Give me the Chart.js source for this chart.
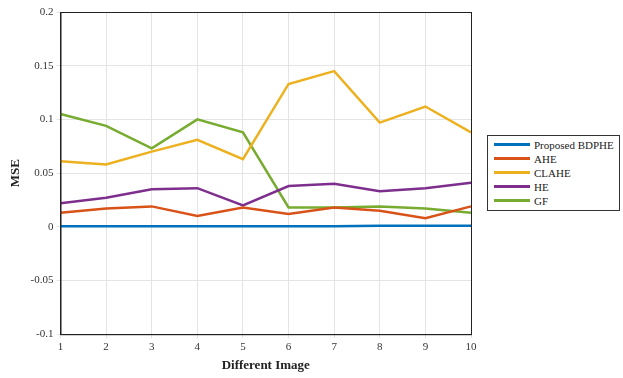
<!DOCTYPE html>
<html>
<head>
<meta charset="utf-8">
<script src="https://cdn.jsdelivr.net/npm/chart.js@4"></script>
<style>
  body { margin: 0; background: #fff; }
  #wrap { position: relative; width: 623px; height: 378px; }
  #legend {
    position: absolute; left: 487px; top: 135px; width: 131px;
    border: 1px solid #333; background: #fff;
    font-family: "Liberation Serif", serif; font-size: 11px; color: #222;
    padding: 2px 0 2px 0;
  }
  #legend div { height: 14px; line-height: 14px; white-space: nowrap; }
  #legend span { display: inline-block; width: 36px; height: 3px; margin: 0 4px 3px 6px; vertical-align: middle; }
</style>
</head>
<body>
<div id="wrap">
  <canvas id="myChart" width="623" height="378"></canvas>
  <div id="legend"></div>
</div>
<script>
// data
var images = ['1', '2', '3', '4', '5', '6', '7', '8', '9', '10'];
var bdphe = [0.0005, 0.0005, 0.0005, 0.0005, 0.0005, 0.0005, 0.0005, 0.001, 0.001, 0.001];
var ahe   = [0.013, 0.017, 0.019, 0.010, 0.018, 0.012, 0.018, 0.015, 0.008, 0.019];
var clahe = [0.061, 0.058, 0.070, 0.081, 0.063, 0.133, 0.145, 0.097, 0.112, 0.088];
var he    = [0.022, 0.027, 0.035, 0.036, 0.020, 0.038, 0.040, 0.033, 0.036, 0.041];
var gf    = [0.105, 0.094, 0.073, 0.100, 0.088, 0.018, 0.018, 0.019, 0.017, 0.013];
var yTicks = [0.2, 0.15, 0.1, 0.05, 0, -0.05, -0.1];
var yTickLabels = ['0.2', '0.15', '0.1', '0.05', '0', '-0.05', '-0.1'];

var series = [
  { label: 'Proposed BDPHE', data: bdphe, color: '#0072BD' },
  { label: 'AHE', data: ahe, color: '#D95319' },
  { label: 'CLAHE', data: clahe, color: '#EDB120' },
  { label: 'HE', data: he, color: '#7E2F8E' },
  { label: 'GF', data: gf, color: '#77AC30' }
];

// draw series back to front so blue ends on top like the figure
var datasets = series.map(function (s, i) {
  return {
    label: s.label,
    data: s.data,
    borderColor: s.color,
    backgroundColor: s.color,
    borderWidth: 2.5,
    pointRadius: 0,
    tension: 0,
    order: i
  };
});

// box round the plot area (MATLAB style)
var boxPlugin = {
  id: 'box',
  afterDraw: function (chart) {
    var a = chart.chartArea, ctx = chart.ctx;
    ctx.save();
    ctx.strokeStyle = '#222';
    ctx.lineWidth = 1;
    ctx.strokeRect(a.left + 0.5, a.top + 0.5, a.right - a.left, a.bottom - a.top);
    ctx.restore();
  }
};

var ctx = document.getElementById('myChart').getContext('2d');
var myChart = new Chart(ctx, {
  type: 'line',
  data: { labels: images, datasets: datasets },
  options: {
    responsive: false,
    animation: false,
    layout: { padding: { left: 4, right: 152, top: 12, bottom: 1 } },
    plugins: { legend: { display: false }, tooltip: { enabled: false } },
    scales: {
      x: {
        offset: false,
        grid: { color: '#e4e4e4', tickLength: 4 },
        border: { color: '#222' },
        ticks: { color: '#333', font: { family: 'Liberation Serif', size: 11 }, padding: 2, maxRotation: 0 },
        title: { display: true, text: 'Different Image', color: '#222', font: { family: 'Liberation Serif', size: 13, weight: 'bold' }, padding: { top: 2 } }
      },
      y: {
        min: -0.1,
        max: 0.2,
        afterBuildTicks: function (axis) {
          axis.ticks = yTicks.map(function (v) { return { value: v }; });
        },
        grid: { color: '#e4e4e4', tickLength: 4 },
        border: { color: '#222' },
        ticks: {
          color: '#333',
          font: { family: 'Liberation Serif', size: 11 },
          callback: function (v) {
            var i = yTicks.findIndex(function (t) { return Math.abs(t - v) < 1e-9; });
            return i >= 0 ? yTickLabels[i] : '';
          }
        },
        title: { display: true, text: 'MSE', color: '#222', font: { family: 'Liberation Serif', size: 13, weight: 'bold' } }
      }
    }
  },
  plugins: [boxPlugin]
});

var legend = document.getElementById('legend');
series.forEach(function (s) {
  var row = document.createElement('div');
  var sw = document.createElement('span');
  sw.style.background = s.color;
  row.appendChild(sw);
  row.appendChild(document.createTextNode(s.label));
  legend.appendChild(row);
});
</script>
</body>
</html>
